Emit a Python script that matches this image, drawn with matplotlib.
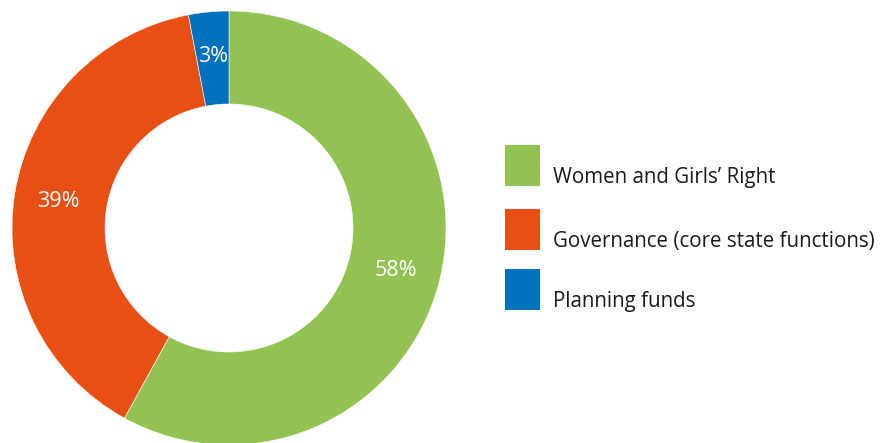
import matplotlib
matplotlib.use("Agg")
import matplotlib.pyplot as plt
from matplotlib.patches import Rectangle

categories = ["Women and Girls\u2019 Right", "Governance (core state functions)", "Planning funds"]
shares = [58, 39, 3]
colors = ["#92C251", "#E84F14", "#0071BC"]

plt.rcParams["font.family"] = ["Open Sans", "DejaVu Sans"]

fig = plt.figure(figsize=(8.82, 4.43), dpi=100)
ax = fig.add_axes([0, 0, 1, 1])

# donut, pixel units (y up)
wedges, texts, autotexts = ax.pie(
    shares, colors=colors, startangle=90, counterclock=False,
    center=(229, 215), radius=217, frame=True,
    wedgeprops=dict(width=93, edgecolor="white", linewidth=0.4),
    autopct="%d%%", pctdistance=0.795,
    textprops=dict(color="white", fontsize=15.5),
)
ax.set_xlim(0, 882)
ax.set_ylim(0, 443)
ax.set_aspect("equal")
ax.axis("off")

# legend drawn by hand
tops = [145, 209, 269]
for name, col, top in zip(categories, colors, tops):
    ax.add_patch(Rectangle((505, 443 - top - 41), 35, 41, color=col, lw=0))
    ax.text(553, 443 - top - 32, name, fontsize=14.8, color="#1a1a1a",
            va="center", ha="left")

fig.savefig("out.png", dpi=100)
